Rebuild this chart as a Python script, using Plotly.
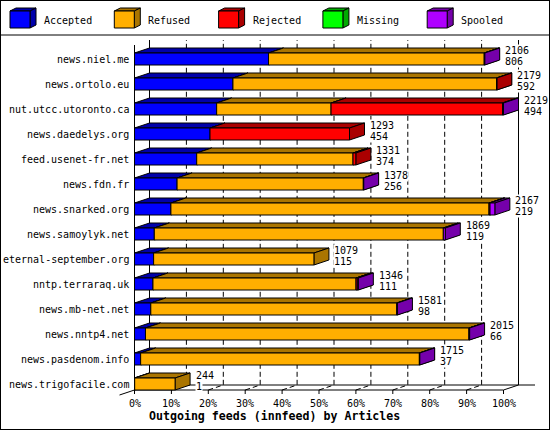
import plotly.graph_objects as go

# ---------------- data ----------------
hosts = ["news.niel.me", "news.ortolo.eu", "nut.utcc.utoronto.ca", "news.daedelys.org",
         "feed.usenet-fr.net", "news.fdn.fr", "news.snarked.org", "news.samoylyk.net",
         "eternal-september.org", "nntp.terraraq.uk", "news.mb-net.net", "news.nntp4.net",
         "news.pasdenom.info", "news.trigofacile.com"]
accepted = [806, 592, 494, 454, 374, 256, 219, 119, 115, 111, 98, 66, 37, 1]
refused = [1297, 1585, 688, 0, 940, 1120, 1913, 1738, 964, 1221, 1479, 1945, 1676, 243]
rejected = [0, 2, 1031, 839, 17, 0, 6, 0, 0, 8, 0, 0, 0, 0]
missing = [0, 0, 0, 0, 0, 0, 0, 0, 0, 0, 0, 0, 0, 0]
spooled = [3, 0, 6, 0, 0, 2, 29, 12, 0, 6, 4, 4, 2, 0]
series_names = ["Accepted", "Refused", "Rejected", "Missing", "Spooled"]
tick_labels = ["0%", "10%", "20%", "30%", "40%", "50%", "60%", "70%", "80%", "90%", "100%"]
title_text = "Outgoing feeds (innfeed) by Articles"

# ---------------- style ----------------
front_colors = ["#0000FF", "#FFAF00", "#FF0000", "#00FF00", "#AF00FF"]
dark_colors = ["#0000AA", "#AA7500", "#AA0000", "#00AA00", "#7500AA"]
FONT = "DejaVu Sans Mono"

W, H = 550, 430
X0 = 134.5      # pixel of 0 %
PX_PCT = 3.69   # pixels per percent
Y0 = 59.0       # pixel of first row centre
ROW = 25.0      # pixels per row


def dxp(px):
    return px / PX_PCT


def xd(px):
    return (px - X0) / PX_PCT


def dyp(py):
    return py / ROW


def yd(py):
    return (py - Y0) / ROW


HALF = dyp(6)      # half height of bar front
DX = dxp(15)       # depth offset (x)
DY = dyp(5)        # depth offset (y, upward)

series = [accepted, refused, rejected, missing, spooled]
totals = [sum(v) for v in zip(*series)]
max_total = max(totals)

fig = go.Figure()

# bars: for each series, top faces, side faces, front faces
cum = [0] * len(hosts)
for k, vals in enumerate(series):
    tops_x, tops_y, sides_x, sides_y, fr_x, fr_y = [], [], [], [], [], []
    for r, v in enumerate(vals):
        s = cum[r] / max_total * 100
        cum[r] += v
        e = cum[r] / max_total * 100
        if v <= 0:
            continue
        yt, yb = r - HALF, r + HALF
        tops_x += [s, e, e + DX, s + DX, s, None]
        tops_y += [yt, yt, yt - DY, yt - DY, yt, None]
        sides_x += [e, e + DX, e + DX, e, e, None]
        sides_y += [yt, yt - DY, yb - DY, yb, yt, None]
        fr_x += [s, e, e, s, s, None]
        fr_y += [yt, yt, yb, yb, yt, None]
    for xs, ys, col in [(tops_x, tops_y, dark_colors[k]),
                        (sides_x, sides_y, dark_colors[k]),
                        (fr_x, fr_y, front_colors[k])]:
        if xs:
            fig.add_trace(go.Scatter(x=xs, y=ys, mode="lines", fill="toself",
                                     fillcolor=col, line=dict(color="black", width=1),
                                     hoverinfo="skip", showlegend=False,
                                     name=series_names[k]))

shapes = []
n = len(hosts)
y_bot = (n - 1) + HALF          # front floor
y_top = yd(45)                  # front top of axis


def seg(x0, y0, x1, y1, dash=None):
    d = dict(color="black", width=1)
    if dash:
        d["dash"] = dash
    return dict(type="line", xref="x", yref="y", x0=x0, y0=y0, x1=x1, y1=y1,
                line=d, layer="below")


# grid (back wall + floor, dashed)
for i in range(1, 10):
    xp = i * 10
    shapes.append(dict(type="path", xref="x", yref="y", layer="below",
                       path=f"M {xp},{y_bot} L {xp + DX},{y_bot - DY} L {xp + DX},{y_top - DY}",
                       line=dict(color="black", width=1, dash="5px,3px")))
shapes.append(seg(0, y_top, 0, y_bot))                         # front left axis
shapes.append(seg(DX, y_top - DY, DX, y_bot - DY))             # back left
shapes.append(seg(100 + DX, y_top - DY, 100 + DX, y_bot - DY))  # back right
shapes.append(seg(DX, y_bot - DY, xd(535), y_bot - DY))         # back floor
shapes.append(seg(0, y_bot, 100, y_bot))                       # front floor
shapes.append(seg(100, y_bot, 100 + DX, y_bot - DY))           # right floor edge
shapes.append(seg(-DX, y_bot + DY, 0, y_bot))                  # left floor edge
for i in range(11):
    shapes.append(seg(i * 10, y_bot, i * 10, y_bot + dyp(4)))

# frame and legend separator
shapes.append(dict(type="rect", xref="paper", yref="paper", x0=0, y0=0, x1=1, y1=1,
                   line=dict(color="black", width=2), layer="above"))
shapes.append(dict(type="line", xref="paper", yref="paper", x0=0, x1=1,
                   y0=1 - 35 / H, y1=1 - 35 / H, line=dict(color="black", width=1)))

annotations = []
# legend cubes
LEG_STEP = 104.3
for i, name in enumerate(series_names):
    lx = 10 + LEG_STEP * i
    x0, x1 = xd(lx), xd(lx + 20)
    yt, yb = yd(11), yd(28)
    ddx, ddy = dxp(6), dyp(3)
    shapes.append(dict(type="path", xref="x", yref="y", fillcolor=dark_colors[i],
                       line=dict(color="black", width=1),
                       path=f"M {x0},{yt} L {x1},{yt} L {x1 + ddx},{yt - ddy} L {x0 + ddx},{yt - ddy} Z"))
    shapes.append(dict(type="path", xref="x", yref="y", fillcolor=dark_colors[i],
                       line=dict(color="black", width=1),
                       path=f"M {x1},{yt} L {x1 + ddx},{yt - ddy} L {x1 + ddx},{yb - ddy} L {x1},{yb} Z"))
    shapes.append(dict(type="path", xref="x", yref="y", fillcolor=front_colors[i],
                       line=dict(color="black", width=1),
                       path=f"M {x0},{yt} L {x1},{yt} L {x1},{yb} L {x0},{yb} Z"))
    annotations.append(dict(x=xd(lx + 32), y=yd(20), xref="x", yref="y", text=name,
                            showarrow=False, xanchor="left", yanchor="middle",
                            font=dict(family=FONT, size=10, color="black")))

# category labels
for r, h in enumerate(hosts):
    annotations.append(dict(x=xd(131), y=r, xref="x", yref="y", text=h, showarrow=False,
                            xanchor="right", yanchor="middle",
                            font=dict(family=FONT, size=10, color="black")))

# value labels
for r in range(n):
    xe = totals[r] / max_total * 100 + DX + dxp(4.5)
    annotations.append(dict(x=xe, y=r - dyp(9), xref="x", yref="y", text=str(totals[r]),
                            showarrow=False, xanchor="left", yanchor="middle",
                            bgcolor="white", borderpad=0,
                            font=dict(family=FONT, size=10, color="black")))
    annotations.append(dict(x=xe, y=r + dyp(2.5), xref="x", yref="y", text=str(accepted[r]),
                            showarrow=False, xanchor="left", yanchor="middle",
                            bgcolor="white", borderpad=0,
                            font=dict(family=FONT, size=10, color="black")))

# x tick labels
for i, t in enumerate(tick_labels):
    annotations.append(dict(x=i * 10, y=yd(403.5), xref="x", yref="y", text=t,
                            showarrow=False, xanchor="center", yanchor="middle",
                            font=dict(family=FONT, size=10, color="black")))

annotations.append(dict(x=xd(274), y=yd(416), xref="x", yref="y", text=f"<b>{title_text}</b>",
                        showarrow=False, xanchor="center", yanchor="middle",
                        font=dict(family=FONT, size=11.6, color="black")))

fig.update_layout(
    width=W, height=H, autosize=False,
    margin=dict(l=0, r=0, t=0, b=0, pad=0),
    paper_bgcolor="white", plot_bgcolor="white",
    showlegend=False, hovermode=False,
    font=dict(family=FONT, size=10, color="black"),
    xaxis=dict(range=[xd(0), xd(W)], visible=False, fixedrange=True),
    yaxis=dict(range=[yd(H), yd(0)], visible=False, fixedrange=True),
    shapes=shapes, annotations=annotations,
)

fig.write_html("out.html", config={"displayModeBar": False, "staticPlot": True},
               post_script="document.body.style.margin='0';document.body.style.padding='0';"
                           "document.body.style.overflow='hidden';")
